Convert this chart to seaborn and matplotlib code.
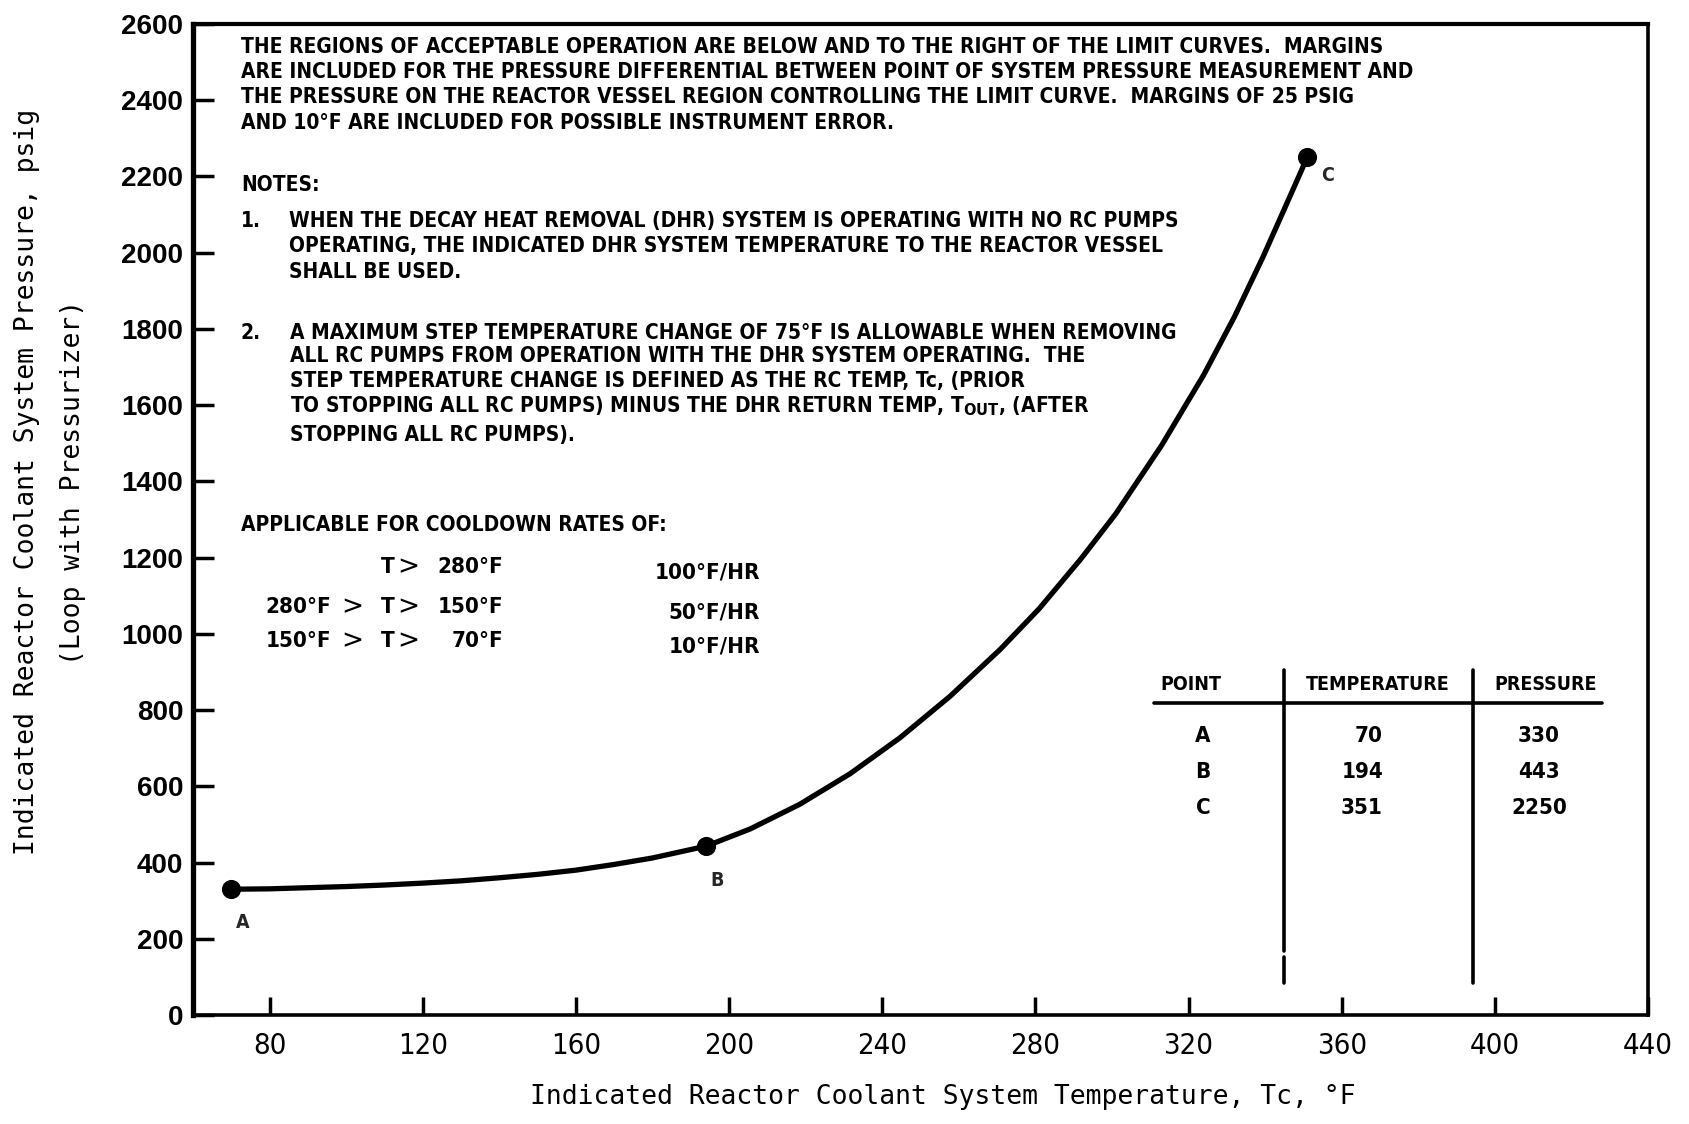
import matplotlib
matplotlib.use("Agg")
import matplotlib.pyplot as plt
from matplotlib.lines import Line2D
import pandas as pd
import seaborn as sns

# Pressure-temperature limit curve (loop with pressurizer)
curve_temp = [70, 80, 90, 100, 110, 120, 130, 140, 150, 160, 170, 180, 194,
              205.5, 218.5, 231.6, 244.6, 257.7, 270.8, 281, 292, 301, 313,
              324, 332, 339.5, 345, 351]
curve_press = [330, 331, 334, 337, 341, 346, 352, 360, 369, 380, 395, 412, 443,
               488, 553, 633, 727, 836, 959, 1066, 1198, 1315, 1495,
               1680, 1832, 1990, 2114, 2250]

# Tabulated break points of the curve
point_names = ["A", "B", "C"]
point_temp = [70, 194, 351]
point_press = [330, 443, 2250]

x_ticks = [80, 120, 160, 200, 240, 280, 320, 360, 400, 440]
y_ticks = [0, 200, 400, 600, 800, 1000, 1200, 1400, 1600, 1800, 2000, 2200, 2400, 2600]

header_lines = [
    "THE REGIONS OF ACCEPTABLE OPERATION ARE BELOW AND TO THE RIGHT OF THE LIMIT CURVES.  MARGINS",
    "ARE INCLUDED FOR THE PRESSURE DIFFERENTIAL BETWEEN POINT OF SYSTEM PRESSURE MEASUREMENT AND",
    "THE PRESSURE ON THE REACTOR VESSEL REGION CONTROLLING THE LIMIT CURVE.  MARGINS OF 25 PSIG",
    "AND 10°F ARE INCLUDED FOR POSSIBLE INSTRUMENT ERROR.",
]
note1_lines = [
    "WHEN THE DECAY HEAT REMOVAL (DHR) SYSTEM IS OPERATING WITH NO RC PUMPS",
    "OPERATING, THE INDICATED DHR SYSTEM TEMPERATURE TO THE REACTOR VESSEL",
    "SHALL BE USED.",
]
note2_lines = [
    "A MAXIMUM STEP TEMPERATURE CHANGE OF 75°F IS ALLOWABLE WHEN REMOVING",
    "ALL RC PUMPS FROM OPERATION WITH THE DHR SYSTEM OPERATING.  THE",
    "STEP TEMPERATURE CHANGE IS DEFINED AS THE RC TEMP, Tc, (PRIOR",
    "TO STOPPING ALL RC PUMPS) MINUS THE DHR RETURN TEMP, T$_{\\mathbf{OUT}}$, (AFTER",
    "STOPPING ALL RC PUMPS).",
]
rate_low = ["", "280°F", "150°F"]
rate_high = ["280°F", "150°F", "70°F"]
rate_values = ["100°F/HR", "50°F/HR", "10°F/HR"]

table_cols = ["POINT", "TEMPERATURE", "PRESSURE"]

W, H = 1689, 1124
sns.set_theme(style="white")
SANS = ["DejaVu Sans"]
plt.rcParams["font.family"] = SANS
plt.rcParams["mathtext.fontset"] = "custom"
plt.rcParams["mathtext.rm"] = "DejaVu Sans"
plt.rcParams["mathtext.bf"] = "DejaVu Sans:bold"

fig = plt.figure(figsize=(W / 100, H / 100), dpi=100)
fig.patch.set_facecolor("white")
L, R, T, B = 193, 1648, 24, 1015
ax = fig.add_axes([L / W, 1 - B / H, (R - L) / W, (B - T) / H])
ax.set_facecolor("white")

curve_df = pd.DataFrame({"temp": curve_temp, "press": curve_press})
sns.lineplot(data=curve_df, x="temp", y="press", color="black", linewidth=3.8,
             sort=False, estimator=None, ax=ax)
pts_df = pd.DataFrame({"point": point_names, "temp": point_temp, "press": point_press})
sns.scatterplot(data=pts_df, x="temp", y="press", color="black", s=190,
                linewidth=0, zorder=5, ax=ax)

label_offsets = {"A": (8, -24), "B": (8, -25), "C": (15, -13)}
for name, t, p in zip(point_names, point_temp, point_press):
    ax.annotate(name, (t, p), xytext=label_offsets[name], textcoords="offset points",
                ha="center", va="center", fontsize=14, fontweight="bold",
                fontstretch="condensed")

ax.set_xlim(60, 440)
ax.set_ylim(0, 2600)
ax.set_xticks(x_ticks)
ax.set_yticks(y_ticks)
ax.set_xticklabels([str(v) for v in x_ticks], fontsize=21, fontstretch="condensed")
ax.set_yticklabels([str(v) for v in y_ticks], fontsize=20, fontweight="bold",
                   family=["Liberation Sans", "DejaVu Sans"])
ax.tick_params(axis="y", direction="in", length=15, width=2.5, pad=7, colors="black", left=True)
ax.tick_params(axis="x", direction="in", length=13, width=2.5, pad=12, colors="black", bottom=True)
ax.set_xlabel("")
ax.set_ylabel("")
for side, lw in {"left": 3.8, "top": 3.0, "right": 2.6, "bottom": 2.6}.items():
    ax.spines[side].set_visible(True)
    ax.spines[side].set_color("black")
    ax.spines[side].set_linewidth(lw)
ax.grid(False)


def put(x, y, s, **kw):
    kw.setdefault("va", "center")
    fig.text(x / W, 1 - y / H, s, color="black", **kw)


# Axis titles
MONO = ["DejaVu Sans Mono", "DejaVu Sans"]
put(27, 482, "Indicated Reactor Coolant System Pressure, psig", rotation=90,
    ha="center", fontsize=19, family=MONO)
put(73, 482, "(Loop with Pressurizer)", rotation=90, ha="center", fontsize=19, family=MONO)
put(943, 1097, "Indicated Reactor Coolant System Temperature, Tc, °F", ha="center",
    fontsize=19, family=MONO)

# General statement
body = dict(fontsize=15, ha="left", fontweight="bold", fontstretch="condensed")
for y, s in zip([47, 72, 97, 123], header_lines):
    put(241, y, s, **body)

put(241, 185, "NOTES:", **body)
put(241, 221, "1.", **body)
for y, s in zip([221, 246, 272], note1_lines):
    put(289, y, s, **body)
put(241, 333, "2.", **body)
for y, s in zip([333, 356, 381, 406, 435], note2_lines):
    put(290, y, s, **body)

# Cooldown rate table
put(241, 525, "APPLICABLE FOR COOLDOWN RATES OF:", **body)
cond = dict(fontsize=16, fontweight="bold", fontstretch="condensed")
for y, lo, hi, rate in zip([567, 607, 641], rate_low, rate_high, rate_values):
    if lo:
        put(331, y, lo, ha="right", **cond)
        put(352, y, ">", ha="center", fontsize=19)
    put(388, y, "T", ha="center", **cond)
    put(408, y, ">", ha="center", fontsize=19)
    put(503, y, hi, ha="right", **cond)
    put(760, y + 5, rate, ha="right", **cond)

# Break point table
hdr = dict(fontsize=14, fontweight="bold", fontstretch="condensed", ha="center")
for x, s in zip([1191, 1378, 1546], table_cols):
    put(x, 685, s, **hdr)
val = dict(fontsize=16, fontweight="bold", fontstretch="condensed")
for y, name, t, p in zip([736, 772, 808], point_names, point_temp, point_press):
    put(1203, y, name, ha="center", **val)
    put(1383, y, str(t), ha="right", **val)
    put(1539, y, str(p), ha="center", **val)

for (x0, y0, x1, y1) in [(1154, 703, 1602, 703),
                         (1284, 670, 1284, 951), (1284, 957, 1284, 983),
                         (1473, 670, 1473, 983)]:
    fig.add_artist(Line2D([x0 / W, x1 / W], [1 - y0 / H, 1 - y1 / H],
                          color="black", linewidth=2.6, transform=fig.transFigure))

fig.savefig("out.png", dpi=100, facecolor="white")
